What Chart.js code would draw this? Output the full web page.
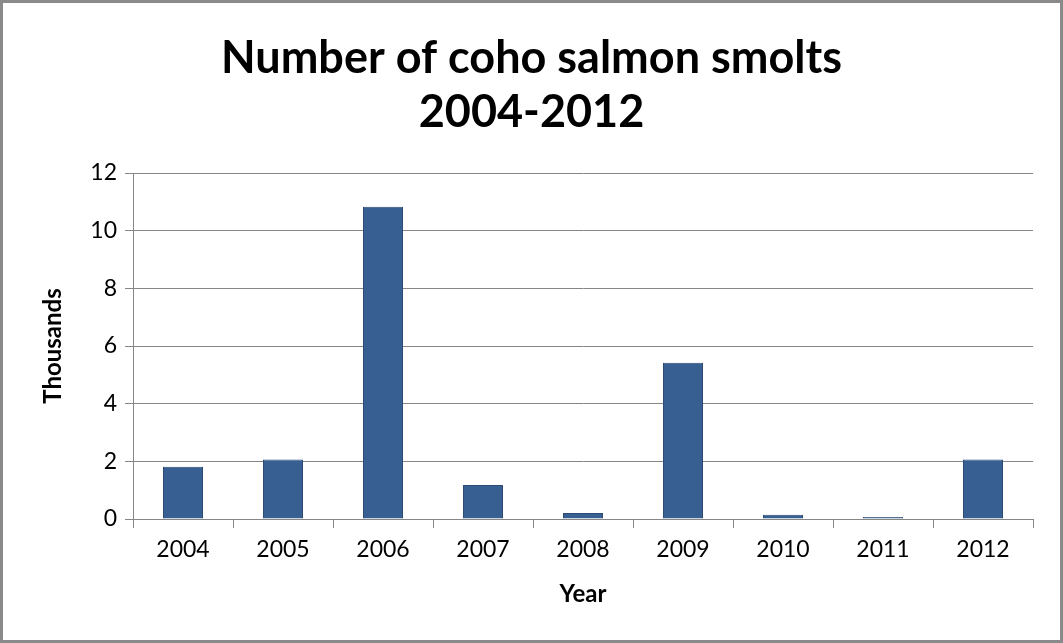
<!DOCTYPE html>
<html>
<head>
<meta charset="utf-8">
<script src="https://cdn.jsdelivr.net/npm/chart.js@4"></script>
<style>
  html, body { margin: 0; padding: 0; background: #fff; }
  #frame {
    width: 1063px; height: 643px;
    box-sizing: border-box;
    border: 3px solid #8a8a8a;
    background: #fff;
  }
  #smoltChart { display: block; }
</style>
</head>
<body>
<div id="frame">
  <canvas id="smoltChart" width="1057" height="637"></canvas>
</div>
<script>
// Coho smolt counts, in thousands
const years = ['2004', '2005', '2006', '2007', '2008', '2009', '2010', '2011', '2012'];
const smolts = [1.81, 2.06, 10.83, 1.18, 0.21, 5.42, 0.15, 0.07, 2.06];
const titleLines = ['Number of coho salmon smolts', '2004-2012'];

const fontFamily = 'Lato, "Open Sans", sans-serif';
const axisGrey = '#868686';

const ctx = document.getElementById('smoltChart').getContext('2d');

window.smoltChart = new Chart(ctx, {
    type: 'bar',
    data: {
        labels: years,
        datasets: [{
            data: smolts,
            backgroundColor: '#375f92',
            borderColor: '#2b4b74',
            borderWidth: 1,
            categoryPercentage: 1,
            barPercentage: 0.4
        }]
    },
    options: {
        responsive: false,
        animation: false,
        layout: {
            padding: 0
        },
        plugins: {
            legend: { display: false },
            tooltip: { enabled: false },
            title: {
                display: true,
                text: titleLines,
                color: '#000',
                font: { family: fontFamily, size: 45, weight: 'bold', lineHeight: 1.2 },
                padding: { top: 28, bottom: 34 }
            }
        },
        scales: {
            x: {
                grid: {
                    drawOnChartArea: false,
                    drawTicks: true,
                    tickLength: 9,
                    color: axisGrey
                },
                border: { display: true, color: axisGrey, width: 1 },
                ticks: {
                    color: '#000',
                    font: { family: fontFamily, size: 23 },
                    padding: 8,
                    maxRotation: 0
                },
                title: {
                    display: true,
                    text: 'Year',
                    color: '#000',
                    font: { family: fontFamily, size: 24, weight: 'bold' },
                    padding: { top: 0, bottom: 31 }
                },
                afterFit: function(scale) { scale.height = 121; }
            },
            y: {
                min: 0,
                max: 12,
                grid: {
                    color: axisGrey,
                    tickLength: 8,
                    drawTicks: true
                },
                border: { display: true, color: axisGrey, width: 1 },
                ticks: {
                    stepSize: 2,
                    color: '#000',
                    font: { family: fontFamily, size: 23 },
                    padding: 8
                },
                title: {
                    display: true,
                    text: 'Thousands',
                    color: '#000',
                    font: { family: fontFamily, size: 24, weight: 'bold' },
                    padding: { top: 36, bottom: 0 }
                },
                afterFit: function(scale) { scale.width = 130; }
            },
            // empty strip on the right so the title centres on the whole frame
            spacer: {
                position: 'right',
                min: 0,
                max: 1,
                grid: { display: false },
                border: { display: false },
                ticks: { display: false },
                afterFit: function(scale) { scale.width = 27; }
            }
        }
    }
});
</script>
</body>
</html>
